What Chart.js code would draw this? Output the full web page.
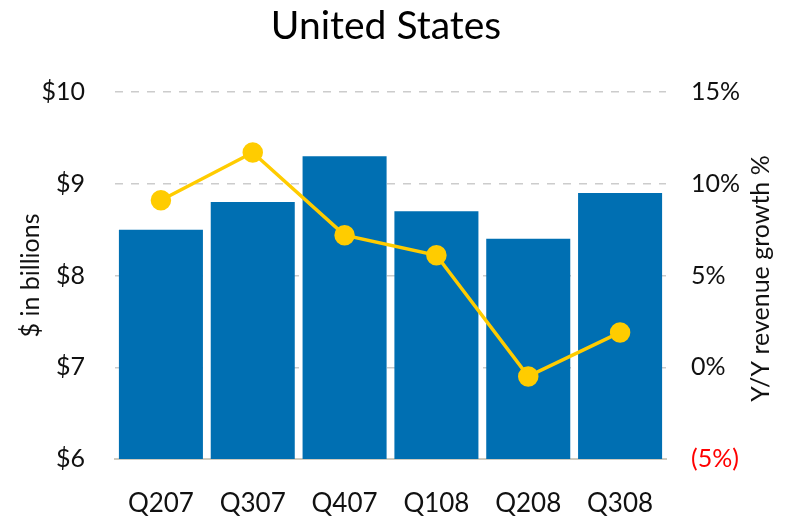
<!DOCTYPE html>
<html>
<head>
<meta charset="utf-8">
<script src="https://cdn.jsdelivr.net/npm/chart.js@4"></script>
<style>
  html, body { margin: 0; padding: 0; background: #fff; }
  #wrap { width: 792px; height: 516px; }
</style>
</head>
<body>
<div id="wrap"><canvas id="usChart" width="792" height="516"></canvas></div>
<script>
const quarters = ['Q207', 'Q307', 'Q407', 'Q108', 'Q208', 'Q308'];
const revenueBillions = [8.5, 8.8, 9.3, 8.7, 8.4, 8.9];
const growthPct = [9.1, 11.7, 7.2, 6.1, -0.5, 1.9];
const leftTicks = [6, 7, 8, 9, 10];
const rightTicks = [-5, 0, 5, 10, 15];

const FONT = 'Lato, "Open Sans", sans-serif';

// title + both axis titles, both reading bottom to top
const extraText = {
    id: 'extraText',
    afterDraw(chart) {
        const ctx = chart.ctx;
        const area = chart.chartArea;
        const midY = (area.top + area.bottom) / 2;
        ctx.save();
        ctx.fillStyle = '#000';
        ctx.font = '39px ' + FONT;
        ctx.textAlign = 'center';
        ctx.textBaseline = 'alphabetic';
        ctx.fillText('United States', 386, 39);

        ctx.font = '25px ' + FONT;
        ctx.textBaseline = 'middle';
        ctx.fillStyle = '#111';

        ctx.save();
        ctx.translate(31, midY);
        ctx.rotate(-Math.PI / 2);
        ctx.fillText('$ in billions', 0, 0);
        ctx.restore();

        ctx.save();
        ctx.translate(761, midY + 3);
        ctx.rotate(-Math.PI / 2);
        ctx.fillText('Y/Y revenue growth %', 0, 0);
        ctx.restore();

        ctx.restore();
    }
};

new Chart(document.getElementById('usChart').getContext('2d'), {
    data: {
        labels: quarters,
        datasets: [
            {
                type: 'line',
                data: growthPct,
                yAxisID: 'yPct',
                borderColor: '#FFCC00',
                backgroundColor: '#FFCC00',
                borderWidth: 3.5,
                pointRadius: 8.5,
                pointHoverRadius: 8.5,
                tension: 0,
                order: 0
            },
            {
                type: 'bar',
                data: revenueBillions,
                yAxisID: 'y',
                backgroundColor: '#006FB2',
                barPercentage: 0.915,
                categoryPercentage: 1,
                order: 1
            }
        ]
    },
    options: {
        responsive: false,
        animation: false,
        layout: { padding: { top: 92, bottom: 0, left: 0, right: 0 } },
        plugins: {
            legend: { display: false },
            tooltip: { enabled: false },
            title: { display: false }
        },
        scales: {
            x: {
                grid: { display: false },
                border: { color: '#CFCBBF', width: 2 },
                ticks: { color: '#111', font: { family: FONT, size: 26 }, padding: 21 },
                afterFit(scale) { scale.height = 57; }
            },
            y: {
                position: 'left',
                min: 6,
                max: 10,
                afterBuildTicks(scale) { scale.ticks = leftTicks.map(v => ({ value: v })); },
                ticks: {
                    color: '#111',
                    font: { family: FONT, size: 25 },
                    padding: 30,
                    callback: v => '$' + v
                },
                grid: {
                    drawTicks: false,
                    color: ctx => ctx.tick && ctx.tick.value === 6 ? 'rgba(0,0,0,0)' : '#CCCCCC',
                    lineWidth: 1.5
                },
                border: { display: false, dash: [8, 8] },
                afterFit(scale) { scale.width = 115; }
            },
            yPct: {
                position: 'right',
                min: -5,
                max: 15,
                afterBuildTicks(scale) { scale.ticks = rightTicks.map(v => ({ value: v })); },
                ticks: {
                    color: ctx => ctx.tick.value < 0 ? '#FF0000' : '#111',
                    font: { family: FONT, size: 25 },
                    padding: 17,
                    callback: v => v < 0 ? '(' + (-v) + '%)' : v + '%'
                },
                grid: { display: false },
                border: { display: false },
                afterFit(scale) { scale.width = 126; }
            }
        }
    },
    plugins: [extraText]
});
</script>
</body>
</html>
